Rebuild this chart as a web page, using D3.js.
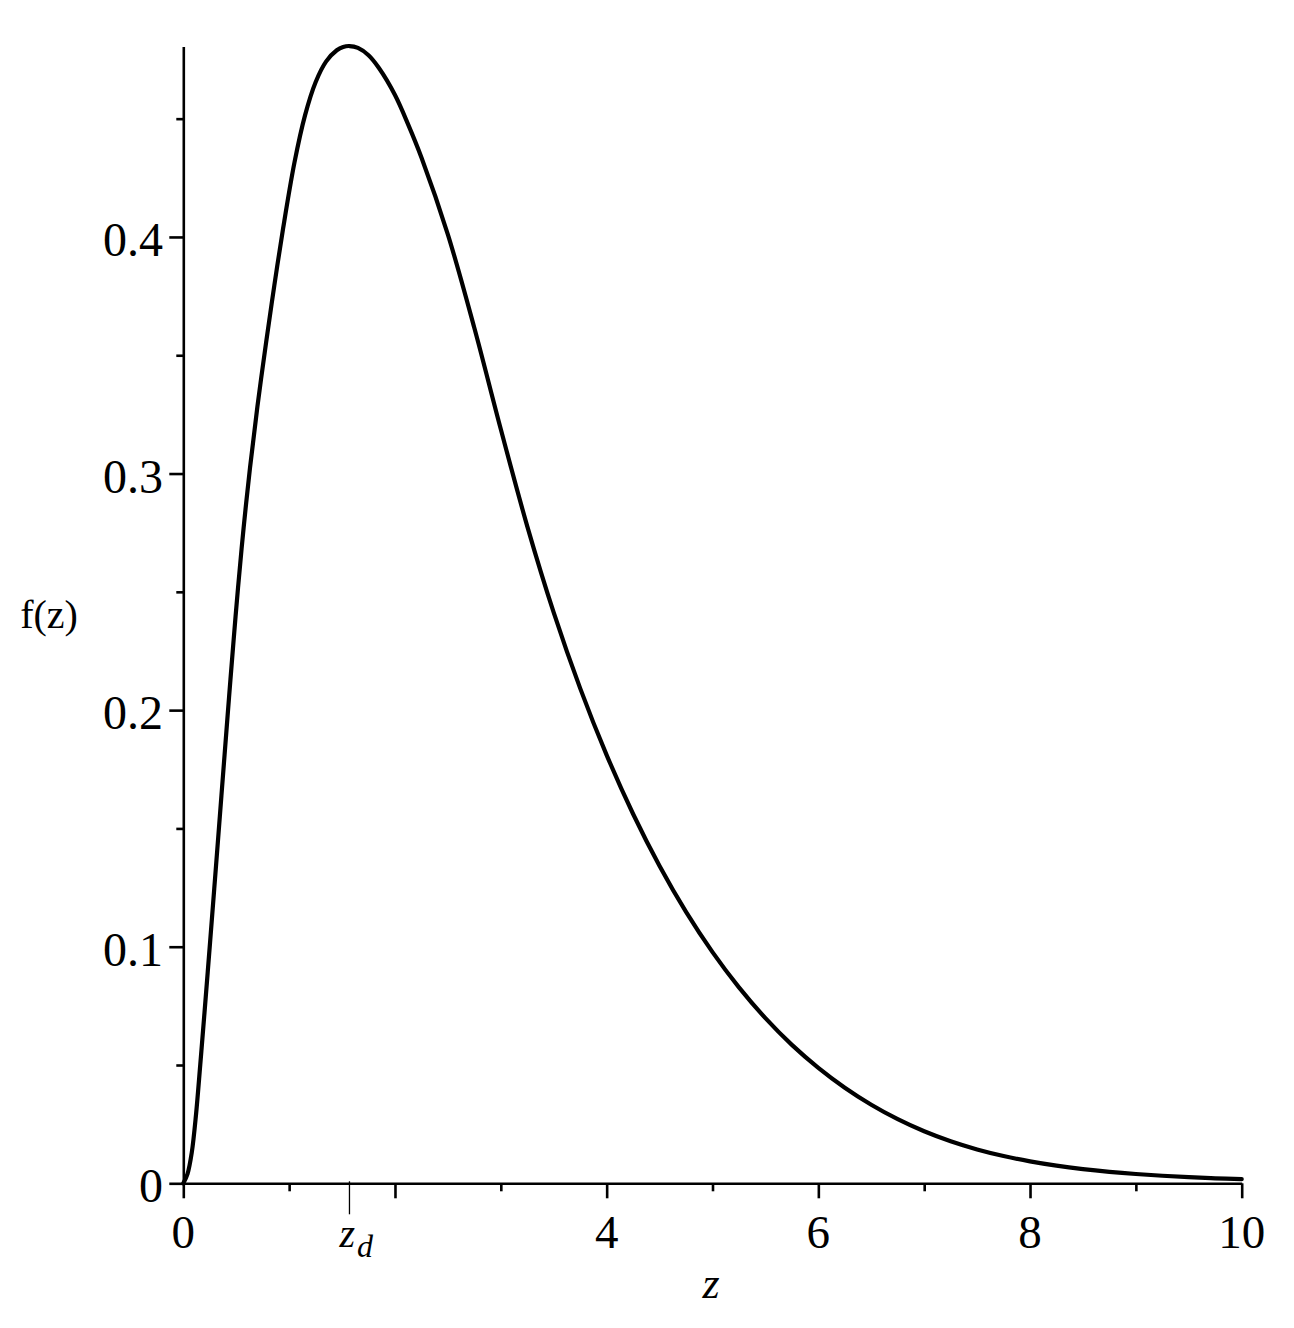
<!DOCTYPE html>
<html>
<head>
<meta charset="utf-8">
<script src="https://cdn.jsdelivr.net/npm/d3@7/dist/d3.min.js"></script>
<style>
  html, body { margin: 0; padding: 0; background: #fff; }
  svg { display: block; }
  text { font-family: "Liberation Serif", "Times New Roman", serif; fill: #000; }
</style>
</head>
<body>
<svg id="chart" width="1294" height="1328"></svg>
<script>
// ---- data ----
const zValues = [0, 0.04, 0.08, 0.12, 0.16, 0.2, 0.253, 0.3, 0.345, 0.39, 0.432, 0.475, 0.517, 0.57, 0.63,
  0.70, 0.782, 0.86, 0.943, 1.05, 1.15, 1.25, 1.35, 1.45, 1.51, 1.57,
  1.65, 1.75, 1.85, 2.0, 2.125, 2.25, 2.5, 2.75, 3.0, 3.25, 3.5, 3.75, 4.0, 4.25, 4.5, 4.75, 5.0, 5.25, 5.5, 5.75,
  6.0, 6.25, 6.5, 6.75, 7.0, 7.25, 7.5, 7.75, 8.0, 8.25, 8.5, 8.75, 9.0, 9.25, 9.5, 9.75, 10.0];
const fValues = [0, 0.004, 0.013, 0.029, 0.050, 0.072, 0.1019, 0.1289, 0.155, 0.1811, 0.2053, 0.2294, 0.2517, 0.2771, 0.3023,
  0.3282, 0.3553, 0.3795, 0.4036, 0.4314, 0.4514, 0.4654, 0.4742, 0.4789, 0.4803, 0.4807,
  0.4799, 0.4768, 0.4713, 0.4600, 0.4475, 0.4336, 0.4010, 0.3615, 0.3187, 0.2777, 0.2412, 0.2092, 0.1810, 0.1561, 0.1341, 0.1147, 0.0977, 0.0828, 0.0698, 0.0585,
  0.0488, 0.0404, 0.0332, 0.0271, 0.02198, 0.01776, 0.01431, 0.01152, 0.00928, 0.00747, 0.00602, 0.00486, 0.00393, 0.00319, 0.00259, 0.00212, 0.00174];

const xMajorTicks = [0, 2, 4, 6, 8, 10];
const xMajorLabels = ["0", "", "4", "6", "8", "10"];
const xMinorTicks = [1, 3, 5, 7, 9];
const yMajorTicks = [0, 0.1, 0.2, 0.3, 0.4];
const yMajorLabels = ["0", "0.1", "0.2", "0.3", "0.4"];
const yMinorTicks = [0.05, 0.15, 0.25, 0.35, 0.45];
const zdValue = 1.57;
const xDomain = [0, 10];
const yDomain = [0, 0.4805];

// ---- scales ----
const x = d3.scaleLinear().domain(xDomain).range([183.3, 1241.7]);
const y = d3.scaleLinear().domain(yDomain).range([1183.3, 46.5]);

const svg = d3.select("#chart");

// curve
const pts = zValues.map((z, i) => [z, fValues[i]]);
const line = d3.line().x(d => x(d[0])).y(d => y(d[1])).curve(d3.curveCatmullRom.alpha(0.5));
svg.append("path").datum(pts).attr("d", line)
  .attr("fill", "none").attr("stroke", "#000").attr("stroke-width", 4.2)
  .attr("stroke-linejoin", "round").attr("stroke-linecap", "round");

// x axis (major + minor)
const gx = svg.append("g").attr("transform", `translate(0,${y(0)})`);
gx.call(d3.axisBottom(x).tickValues(xMajorTicks).tickSize(15).tickSizeOuter(0).tickFormat(""));
const gxm = svg.append("g").attr("transform", `translate(0,${y(0)})`);
gxm.call(d3.axisBottom(x).tickValues(xMinorTicks).tickSize(8).tickSizeOuter(0).tickFormat(""));
gxm.select(".domain").remove();

// y axis (major + minor)
const gy = svg.append("g").attr("transform", `translate(${x(0)},0)`);
gy.call(d3.axisLeft(y).tickValues(yMajorTicks).tickSize(14).tickSizeOuter(0).tickFormat(""));
const gym = svg.append("g").attr("transform", `translate(${x(0)},0)`);
gym.call(d3.axisLeft(y).tickValues(yMinorTicks).tickSize(7).tickSizeOuter(0).tickFormat(""));
gym.select(".domain").remove();

svg.selectAll(".domain, .tick line").attr("stroke", "#000").attr("stroke-width", 2.6);

// z_d tick
svg.append("line")
  .attr("x1", x(zdValue)).attr("x2", x(zdValue))
  .attr("y1", y(0) - 2).attr("y2", y(0) + 31)
  .attr("stroke", "#000").attr("stroke-width", 1.3);

// x tick labels
xMajorTicks.forEach((t, i) => {
  if (!xMajorLabels[i]) return;
  svg.append("text")
    .attr("x", x(t)).attr("y", y(0) + 65)
    .attr("text-anchor", "middle")
    .attr("font-size", 47)
    .text(xMajorLabels[i]);
});

// z_d label
const zd = svg.append("text")
  .attr("x", x(zdValue) - 10).attr("y", y(0) + 64)
  .attr("text-anchor", "start")
  .attr("font-size", 40)
  .attr("font-style", "italic");
zd.append("tspan").text("z");
zd.append("tspan").attr("font-size", 32).attr("dy", 10).attr("dx", 2).text("d");

// y tick labels
yMajorTicks.forEach((t, i) => {
  svg.append("text")
    .attr("x", 163).attr("y", y(t) + 19)
    .attr("text-anchor", "end")
    .attr("font-size", 48)
    .text(yMajorLabels[i]);
});

// axis titles
svg.append("text")
  .attr("x", 711).attr("y", 1298)
  .attr("text-anchor", "middle")
  .attr("font-size", 44)
  .attr("font-style", "italic")
  .text("z");

svg.append("text")
  .attr("x", 49).attr("y", 628)
  .attr("text-anchor", "middle")
  .attr("font-size", 40)
  .text("f(z)");
</script>
</body>
</html>
